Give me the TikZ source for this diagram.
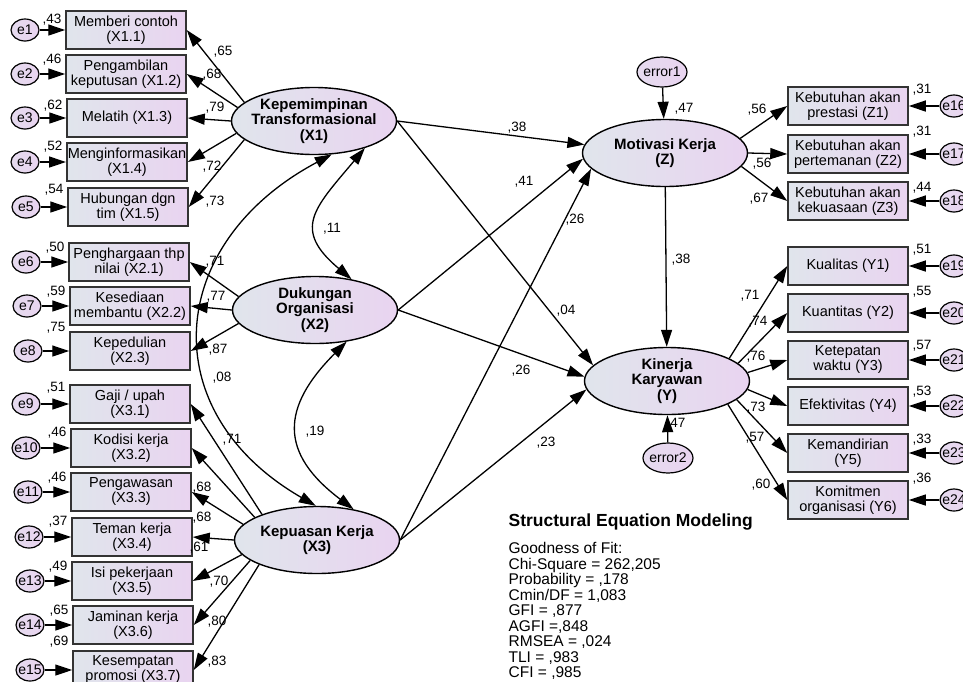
\documentclass[tikz,border=0pt]{standalone}
\usepackage{fontspec}
\setmainfont{Liberation Sans}
\usetikzlibrary{arrows.meta}
\usetikzlibrary{shapes.geometric}

\definecolor{shadeL}{HTML}{E0E5EC}
\definecolor{shadeR}{HTML}{E9D4F0}

\begin{document}
\begin{tikzpicture}[x=1pt,y=-1pt,line width=1.3pt,
  >={Triangle[length=17pt,width=11pt]},
  ind/.style={draw=black!80,line width=1.5pt,left color=shadeL,right color=shadeR,
    minimum width=120pt,minimum height=38pt,inner sep=1pt,align=center,
    font=\fontsize{14.5}{15}\selectfont},
  lat/.style={ellipse,draw,line width=1.4pt,left color=shadeL,right color=shadeR,
    minimum width=165pt,minimum height=67pt,inner xsep=-25pt,inner ysep=0pt,align=center,
    font=\fontsize{15}{15.5}\selectfont\bfseries},
  err/.style={ellipse,draw,line width=1.2pt,left color=shadeL!40!shadeR,right color=shadeR,
    minimum width=28pt,minimum height=22pt,inner xsep=-4pt,inner ysep=0pt,
    font=\fontsize{14}{14}\selectfont},
  res/.style={err,minimum width=50pt,minimum height=30pt},
  lbl/.style={inner sep=0pt,font=\fontsize{13.5}{13.5}\selectfont}
]
\useasboundingbox (0,0) rectangle (963,681);

% latent variables
\node[lat] (KT) at (314,121) {Kepemimpinan\\Transformasional\\(X1)};
\node[lat] (DO) at (315,310) {Dukungan\\Organisasi\\(X2)};
\node[lat] (KK) at (317,540) {Kepuasan Kerja\\(X3)};
\node[lat] (MK) at (665,153) {Motivasi Kerja\\(Z)};
\node[lat] (KY) at (667,381) {Kinerja\\Karyawan\\(Y)};
\node[res] (r1) at (662,72) {error1};
\node[res] (r2) at (668,458) {error2};

% indicators of X1, X2, X3
\foreach \n/\y/\bx/\ex/\ly/\va/\txt in {
  1/30/126/25/20/43/{Memberi contoh\\(X1.1)},
  2/74/126/25/60/46/{Pengambilan\\keputusan (X1.2)},
  3/118/127/25/106/62/{Melatih (X1.3)},
  4/162/127/25/147/52/{Menginformasikan\\(X1.4)},
  5/207/128/26/190/54/{Hubungan dgn\\tim (X1.5)},
  6/262/129/26/248/50/{Penghargaan thp\\nilai (X2.1)},
  7/306/130/27/292/59/{Kesediaan\\membantu (X2.2)},
  8/351/130/28/328/75/{Kepedulian\\(X2.3)},
  9/404/130/26/388/51/{Gaji / upah\\(X3.1)},
  10/448/131/26/433/46/{Kodisi kerja\\(X3.2)},
  11/492/131/28/478/46/{Pengawasan\\(X3.3)},
  12/537/132/29/522/37/{Teman kerja\\(X3.4)},
  13/581/132/30/567/49/{Isi pekerjaan\\(X3.5)},
  14/625/133/30/611/65/{Jaminan kerja\\(X3.6)},
  15/670/133/30/642/69/{Kesempatan\\promosi (X3.7)}}
{
  \node[ind] (i\n) at (\bx,\y) {\txt};
  \node[err] (e\n) at (\ex,\y) {e\n};
  \draw[->] (e\n) -- (i\n);
  \node[lbl] (v\n) at (\bx-74,\ly) {,\va};
}

\foreach \n/\src/\ang/\lx/\ly/\ld in {
  1/KT/165/223/52/65, 2/KT/170/212/75/68, 3/KT/180/215/108/79,
  4/KT/189/212/167/72, 5/KT/195/215/202/73,
  6/DO/170/215/262/71, 7/DO/180/216/297/77, 8/DO/190/218/350/87,
  9/KK/155/232/440/71, 10/KK/160/202/488/68, 11/KK/168/202/518/68,
  12/KK/180/199/548/61, 13/KK/191/219/582/70, 14/KK/197/217/622/80,
  15/KK/203/217/662/83}
{
  \draw[->] (\src.\ang) -- (i\n.east);
  \node[lbl] (w\n) at (\lx,\ly) {,\ld};
}

% indicators of Z
\foreach \n/\y/\txt/\va/\vy/\ang/\lx/\ly/\ld in {
  1/106/{Kebutuhan akan\\prestasi (Z1)}/31/90/11/757/110/56,
  2/154/{Kebutuhan akan\\pertemanan (Z2)}/31/132/0/762/164/56,
  3/201/{Kebutuhan akan\\kekuasaan (Z3)}/44/188/-10/759/199/67}
{
  \pgfmathtruncatemacro\m{\n+15}
  \node[ind] (z\n) at (848,\y) {\txt};
  \node[err] (e\m) at (954,\y) {e\m};
  \draw[->] (e\m) -- (z\n);
  \node[lbl] (v\m) at (922,\vy) {,\va};
  \draw[->] (MK.\ang) -- (z\n.west);
  \node[lbl] (w\m) at (\lx,\ly) {,\ld};
}

% indicators of Y
\foreach \n/\y/\txt/\va/\vy/\ang/\lx/\ly/\ld in {
  1/266/{Kualitas (Y1)}/51/250/20/750/296/71,
  2/313/{Kuantitas (Y2)}/55/292/14/758/322/74,
  3/360/{Ketepatan\\waktu (Y3)}/57/346/6/756/357/76,
  4/406/{Efektivitas (Y4)}/53/392/-6/756/408/73,
  5/453/{Kemandirian\\(Y5)}/33/440/-15/755/438/57,
  6/500/{Komitmen\\organisasi (Y6)}/36/479/-21/761/485/60}
{
  \pgfmathtruncatemacro\m{\n+18}
  \node[ind] (y\n) at (848,\y) {\txt};
  \node[err] (e\m) at (954,\y) {e\m};
  \draw[->] (e\m) -- (y\n);
  \node[lbl] (v\m) at (922,\vy) {,\va};
  \draw[->] (KY.\ang) -- (y\n.west);
  \node[lbl] (w\m) at (\lx,\ly) {,\ld};
}

% structural paths
\draw[->] (KT.east) -- (MK.174);
\draw[->] (KT.east) -- (KY.168);
\draw[->] (DO.east) -- (MK.184);
\draw[->] (DO.east) -- (KY.177);
\draw[->] (KK.east) -- (MK.192);
\draw[->] (KK.east) -- (KY.186);
\draw[->] (MK) -- (KY);
\draw[->] (r1) -- (MK);
\draw[->] (r2) -- (KY);
\node[lbl] (p1) at (517,128) {,38};
\node[lbl] (p2) at (524,182) {,41};
\node[lbl] (p3) at (575,220) {,26};
\node[lbl] (p4) at (566,311) {,04};
\node[lbl] (p5) at (521,371) {,26};
\node[lbl] (p6) at (546,443) {,23};
\node[lbl] (p7) at (681,260) {,38};
\node[lbl] (p8) at (684,109) {,47};
\node[lbl] (p9) at (676,424) {,47};

% covariances
\draw[<->] (KT.-28) to[out=230,in=140,looseness=1.52] (DO.40);
\draw[<->] (DO.-45) to[out=225,in=143,looseness=1.42] (KK.40);
\draw[<->] (KT.-62) to[out=208,in=150,looseness=1.37] (KK.92);
\node[lbl] (c1) at (332,229) {,11};
\node[lbl] (c2) at (315,432) {,19};
\node[lbl] (c3) at (222,378) {,08};

% fit summary
\node[anchor=base west,inner sep=0pt,font=\fontsize{17.5}{17.5}\selectfont\bfseries]
  (sem) at (508,526) {Structural Equation Modeling};
\node[anchor=north west,inner sep=0pt,align=left,font=\fontsize{15.5}{15.5}\selectfont]
  (gof) at (508,542) {Goodness of Fit:\\Chi-Square = 262,205\\Probability = ,178\\
  Cmin/DF = 1,083\\GFI = ,877\\AGFI =,848\\RMSEA = ,024\\TLI = ,983\\CFI = ,985};
\end{tikzpicture}
\end{document}
